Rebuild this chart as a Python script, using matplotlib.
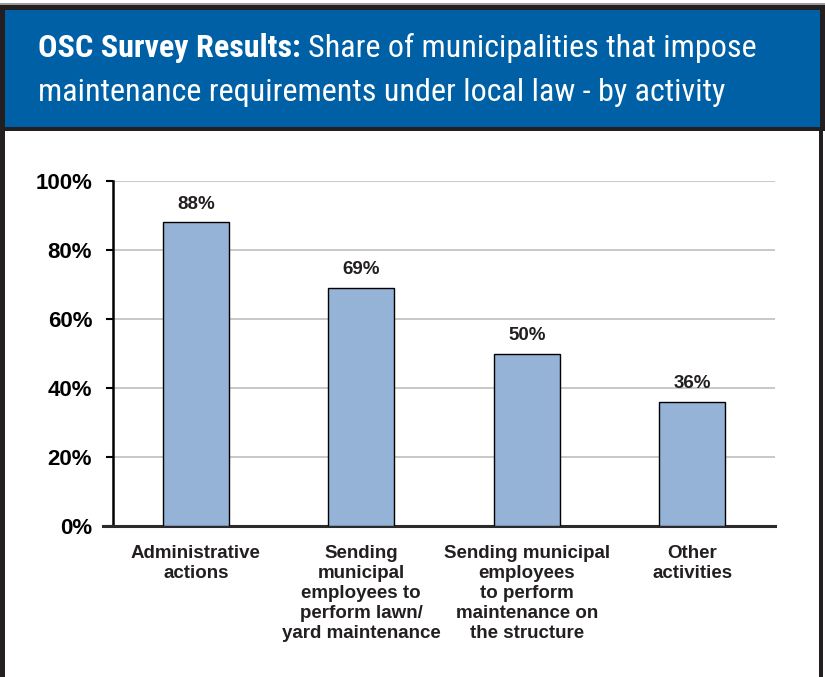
import matplotlib
matplotlib.use("Agg")
import matplotlib.pyplot as plt
from matplotlib.patches import Rectangle
from matplotlib import font_manager

# data
categories = ["Administrative\nactions",
              "Sending\nmunicipal\nemployees to\nperform lawn/\nyard maintenance",
              "Sending municipal\nemployees\nto perform\nmaintenance on\nthe structure",
              "Other\nactivities"]
shares = [88, 69, 50, 36]
yticks = [0, 20, 40, 60, 80, 100]

header_blue = "#0060A6"
bar_blue = "#95B3D7"
dark = "#231F20"

plt.rcParams['font.family'] = ['Liberation Sans', 'DejaVu Sans']

# look for a narrow face for the header, the original uses a condensed font
names = {f.name for f in font_manager.fontManager.ttflist}
narrow = [(f.name, f.stretch) for f in font_manager.fontManager.ttflist
          if str(f.stretch) in ('condensed', 'semi-condensed', 'extra-condensed', '75', '87')]
title_family = 'Liberation Sans'
title_stretch = 'normal'
for cand in ['Liberation Sans Narrow', 'Roboto Condensed', 'Open Sans Condensed',
             'Noto Sans Condensed', 'DejaVu Sans Condensed']:
    if cand in names:
        title_family = cand
        break
else:
    for n, s in narrow:
        if n in ('Noto Sans', 'Open Sans', 'Roboto', 'DejaVu Sans'):
            title_family, title_stretch = n, 'condensed'
            break

fig = plt.figure(figsize=(8.25, 6.77), dpi=100)
W, H = 825.0, 677.0

def box(x0, y0, x1, y1, color):
    # rectangle in pixel coords (y from top)
    fig.patches.append(Rectangle((x0 / W, 1 - y1 / H), (x1 - x0) / W, (y1 - y0) / H,
                                 transform=fig.transFigure, facecolor=color,
                                 edgecolor='none', zorder=0))

# frame and header
box(0, 3, 825, 5, "#9a9a9a")
box(0, 5, 825, 131, dark)
box(5, 10, 820, 127, header_blue)
box(0, 131, 5, 677, dark)
box(819, 131, 823, 677, dark)

tkw = dict(color="white", family=title_family, stretch=title_stretch, va='baseline')
size = 27
t1 = fig.text(38 / W, 1 - 57 / H, "OSC Survey Results:", fontsize=size,
              fontweight='bold', **tkw)
t1b = fig.text(0, 1 - 57 / H, "Share of municipalities that impose", fontsize=size, **tkw)
fig.canvas.draw()
w1 = t1.get_window_extent().width + 9 + t1b.get_window_extent().width
size = min(size * 719 / w1, 34)
t1.set_fontsize(size)
t1b.set_fontsize(size)
fig.canvas.draw()
t1b.set_x((t1.get_window_extent().x1 + 9 * size / 27) / W)
fig.text(38 / W, 1 - 101 / H, "maintenance requirements under local law - by activity",
         fontsize=size, **tkw)

ax = fig.add_axes([113 / W, 1 - 526 / H, (775 - 113) / W, (526 - 181) / H])
x = range(len(categories))
bars = ax.bar(x, shares, width=0.4, color=bar_blue, edgecolor='black', linewidth=1, zorder=3)
for b, v in zip(bars, shares):
    ax.annotate(f"{v}%", (b.get_x() + b.get_width() / 2, v), xytext=(0, 7),
                textcoords='offset points', ha='center', va='bottom',
                fontsize=13.5, fontweight='bold', color=dark)

ax.set_xlim(-0.5, len(categories) - 0.5)
ax.set_ylim(0, 100)
ax.set_yticks(yticks)
ax.set_yticklabels([f"{t}%" for t in yticks], fontsize=16, fontweight='bold', color='black')
ax.yaxis.grid(True, color="#bfbfbf", linewidth=1.2, zorder=0)
ax.set_axisbelow(True)
ax.set_xticks(list(x))
ax.set_xticklabels(categories, fontsize=13.5, fontweight='bold', color=dark,
                   linespacing=1.22, va='top')
ax.tick_params(axis='x', length=0, pad=14)
ax.tick_params(axis='y', length=5, width=1.5, direction='out', pad=10)
for s in ['top', 'right']:
    ax.spines[s].set_visible(False)
ax.spines['left'].set_linewidth(1.8)
ax.spines['bottom'].set_linewidth(2.2)
ax.spines['bottom'].set_color("#2b2b2b")
ax.spines['bottom'].set_bounds(-0.56, len(categories) - 0.5)

fig.savefig("out.png", dpi=100)
